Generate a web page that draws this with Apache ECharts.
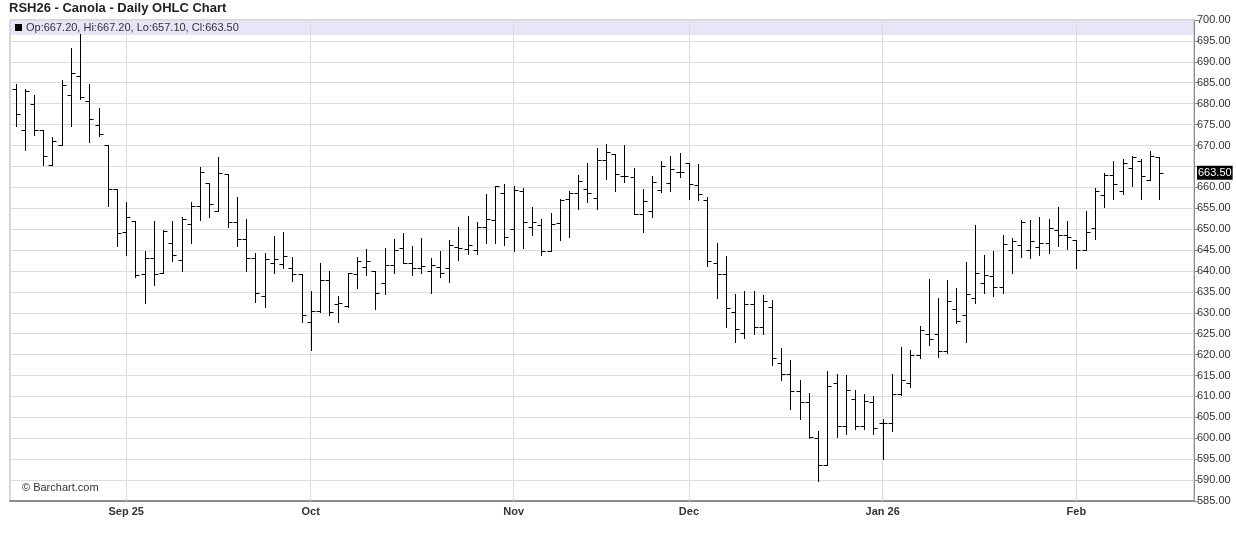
<!DOCTYPE html>
<html>
<head>
<meta charset="utf-8">
<script src="https://cdn.jsdelivr.net/npm/echarts@6/dist/echarts.min.js"></script>
<style>
html,body{margin:0;padding:0;background:#fff;}
#chart{width:1236px;height:542px;}
</style>
</head>
<body>
<div id="chart"></div>
<script>
// ---- data (daily OHLC, RSH26 Canola) ----
const opens = [683.6,673.8,680.0,673.6,665.3,670.1,682.1,686.6,680.6,674.8,670.1,659.5,649.2,651.9,639.3,643.2,639.5,646.7,642.7,651.3,
655.5,661.1,654.3,663.1,651.7,647.6,643.0,634.1,641.9,641.6,640.7,639.3,627.7,630.5,637.9,632.1,631.7,639.2,641.0,640.1,
637.2,641.4,645.4,642.0,640.8,640.1,640.9,640.6,645.7,645.2,644.9,650.6,652.1,658.6,650.1,659.1,650.4,651.1,644.8,651.4,
657.1,658.6,659.7,657.5,666.6,667.9,662.6,662.5,653.5,654.3,659.3,661.1,663.7,665.9,660.5,656.9,642.0,639.2,630.1,625.1,
632.0,626.6,631.3,618.0,615.4,611.4,608.6,600.1,593.5,613.2,603.0,609.4,603.0,608.6,603.6,603.6,610.7,613.1,619.8,624.9,
624.9,620.8,630.8,629.5,633.6,637.1,638.7,636.2,645.0,646.2,645.0,645.8,646.6,649.8,648.5,647.4,645.0,650.2,658.2,663.0,
659.0,664.6,666.4,661.8,667.2];
const highs = [684.6,683.6,682.0,673.6,672.1,685.6,693.2,696.6,684.6,678.9,670.1,659.5,656.4,651.9,644.8,652.0,649.7,651.9,652.9,656.5,
664.8,661.1,667.3,663.1,657.7,652.4,644.3,644.3,648.4,649.4,643.3,639.3,635.1,641.9,640.0,633.9,639.6,643.4,645.2,640.1,
645.4,647.6,649.0,645.9,647.8,643.0,644.7,647.4,650.4,653.2,651.8,658.3,660.3,660.7,660.2,659.9,655.4,652.4,653.8,657.3,
659.0,662.9,665.8,669.4,670.4,668.0,670.0,664.7,659.7,662.6,666.4,667.4,668.3,665.9,665.6,657.7,646.6,643.6,634.5,635.3,
635.1,634.3,633.1,621.5,618.8,614.0,610.8,601.7,616.1,615.3,615.2,611.6,610.6,610.0,604.5,615.3,621.9,621.1,626.9,638.1,
633.6,637.9,635.9,642.1,651.0,643.8,644.8,648.6,647.8,652.2,652.2,652.9,652.5,655.2,652.0,647.4,654.4,659.8,663.5,666.3,
666.7,667.5,666.7,668.7,667.2];
const lows = [674.6,668.8,672.6,665.4,665.3,670.1,674.6,681.0,670.8,672.2,655.5,645.9,643.9,638.5,632.3,636.7,639.5,642.3,639.9,646.8,
652.1,652.9,654.3,650.5,645.9,639.9,632.5,631.3,639.5,640.7,637.7,627.8,621.1,630.1,629.5,627.9,631.5,636.0,639.1,630.9,
634.6,639.4,642.0,639.1,639.6,634.8,638.5,637.4,642.6,644.1,644.0,646.8,646.8,646.2,644.8,645.6,648.6,643.8,644.8,647.4,
648.1,654.7,656.5,654.9,662.1,659.1,661.3,653.5,649.3,652.9,658.9,659.1,662.5,657.1,656.9,641.2,633.6,626.7,623.0,623.9,
625.0,625.0,617.6,614.0,607.0,604.6,600.1,589.9,593.5,600.3,601.1,602.2,602.3,601.1,595.0,601.8,610.4,612.3,619.3,622.4,
619.5,620.3,627.5,623.0,632.4,634.8,633.9,634.8,639.5,643.4,643.0,643.7,644.2,646.0,645.2,640.7,645.0,647.6,655.4,657.3,
658.4,660.2,657.2,661.8,657.1];
const closes = [677.6,683.0,673.6,667.4,671.0,684.4,687.3,681.7,676.4,672.8,659.5,649.0,652.9,639.1,643.2,639.3,649.5,643.7,652.4,655.5,
663.7,656.0,663.5,651.7,647.6,643.0,634.7,642.8,642.8,643.5,639.2,629.5,630.5,637.9,630.1,632.3,639.5,642.5,642.5,634.7,
641.4,645.0,642.0,640.6,641.2,641.5,639.5,646.2,645.4,646.2,650.6,652.4,660.2,648.2,659.3,651.6,651.6,644.8,651.3,656.9,
658.6,661.6,658.7,666.6,668.5,663.1,662.8,653.5,656.8,661.2,665.0,664.4,663.7,660.7,658.3,642.4,639.2,631.1,626.2,632.0,
626.6,632.7,619.2,615.4,611.4,608.6,600.3,593.5,612.6,603.0,611.6,603.0,608.8,602.5,603.7,610.7,613.9,619.8,625.9,623.7,
620.8,632.8,628.1,634.5,639.5,639.0,636.2,646.4,647.2,651.7,647.1,646.6,650.2,648.5,648.1,645.0,649.3,659.0,663.0,660.8,
665.8,667.2,662.7,667.6,663.5];
// month tick positions (bar index of first trading day of month) and their labels
const monthStarts = [12, 32, 54, 73, 94, 115];
const monthLabels = ['Sep 25', 'Oct', 'Nov', 'Dec', 'Jan 26', 'Feb'];
const lastPrice = 663.50;
const headerText = 'Op:667.20, Hi:667.20, Lo:657.10, Cl:663.50';
const titleText = 'RSH26 - Canola - Daily OHLC Chart';

const FONT = 'Liberation Sans, Arial, Helvetica, sans-serif';
const seriesData = opens.map((o, i) => [i, o, highs[i], lows[i], closes[i]]);

const chart = echarts.init(document.getElementById('chart'), null, {renderer: 'canvas'});

function renderOHLC(params, api) {
  const x = api.value(0);
  const pO = api.coord([x, api.value(1)]);
  const pH = api.coord([x, api.value(2)]);
  const pL = api.coord([x, api.value(3)]);
  const pC = api.coord([x, api.value(4)]);
  const px = Math.round(pH[0]) + 0.5;
  const yo = Math.round(pO[1]) + 0.5;
  const yc = Math.round(pC[1]) + 0.5;
  const st = {stroke: '#000', lineWidth: 1};
  return {
    type: 'group',
    children: [
      {type: 'line', shape: {x1: px, y1: Math.round(pH[1]), x2: px, y2: Math.round(pL[1]) + 1}, style: st},
      {type: 'line', shape: {x1: px - 4, y1: yo, x2: px, y2: yo}, style: st},
      {type: 'line', shape: {x1: px, y1: yc, x2: px + 4, y2: yc}, style: st}
    ]
  };
}

const option = {
  animation: false,
  backgroundColor: '#fff',
  textStyle: {fontFamily: FONT},
  grid: {left: 10, right: 42, top: 20, bottom: 41, show: true, borderColor: '#b0b0b0', borderWidth: 1, backgroundColor: 'transparent'},
  xAxis: {
    type: 'value',
    min: -0.6,
    max: 127.75,
    axisLine: {show: true, onZero: false, lineStyle: {color: '#8c8c8c', width: 2}},
    axisTick: {show: false, customValues: monthStarts},
    axisLabel: {
      customValues: monthStarts,
      formatter: v => monthLabels[monthStarts.indexOf(v)] || '',
      fontFamily: FONT, fontSize: 11, fontWeight: 'bold', color: '#333', margin: 5
    },
    splitLine: {show: false}
  },
  yAxis: {
    type: 'value',
    position: 'right',
    min: 585,
    max: 700,
    interval: 5,
    axisLine: {show: true, onZero: false, lineStyle: {color: '#8c8c8c', width: 1}},
    axisTick: {show: true, length: 5, lineStyle: {color: '#8c8c8c'}},
    axisLabel: {
      formatter: v => (Math.abs(v - 665) < 0.01 ? '' : v.toFixed(2)),
      fontFamily: FONT, fontSize: 11, color: '#333', margin: 3
    },
    splitLine: {show: true, lineStyle: {color: '#dcdcdc', width: 1}}
  },
  graphic: [
    {type: 'text', left: 9, top: 2, z: 10, style: {text: titleText, font: 'bold 13px ' + FONT, fill: '#222'}},
    {type: 'rect', shape: {x: 11, y: 20, width: 1183, height: 15}, style: {fill: '#e6e6f8'}, z: -1, silent: true},
    {type: 'rect', shape: {x: 15, y: 24, width: 7, height: 7}, style: {fill: '#000'}, z: 10},
    {type: 'text', x: 26, y: 22, z: 10, style: {text: headerText, font: '11px ' + FONT, fill: '#333'}},
    {type: 'text', x: 22, y: 482, z: 10, style: {text: '\u00A9 Barchart.com', font: '11px ' + FONT, fill: '#333'}}
  ],
  series: [
    {
      // month gridlines, drawn beneath the bars
      type: 'line',
      data: [],
      z: 1,
      silent: true,
      markLine: {
        silent: true,
        z: 1,
        symbol: ['none', 'none'],
        animation: false,
        label: {show: false},
        lineStyle: {color: '#dcdcdc', width: 1, type: 'solid'},
        emphasis: {disabled: true},
        data: monthStarts.map(v => ({xAxis: v}))
      }
    },
    {
      type: 'custom',
      z: 3,
      renderItem: renderOHLC,
      encode: {x: 0, y: [1, 2, 3, 4]},
      data: seriesData,
      clip: false,
      markLine: {
        silent: true,
        symbol: ['none', 'none'],
        animation: false,
        lineStyle: {color: 'rgba(0,0,0,0)', width: 0, type: 'solid'},
        label: {
          show: true, position: 'end', distance: 3,
          formatter: lastPrice.toFixed(2),
          backgroundColor: '#000', color: '#fff', padding: [2, 1, 1, 1],
          fontFamily: FONT, fontSize: 11, opacity: 1
        },
        emphasis: {disabled: true},
        data: [{yAxis: lastPrice}]
      }
    }
  ]
};
chart.setOption(option);
</script>
</body>
</html>
